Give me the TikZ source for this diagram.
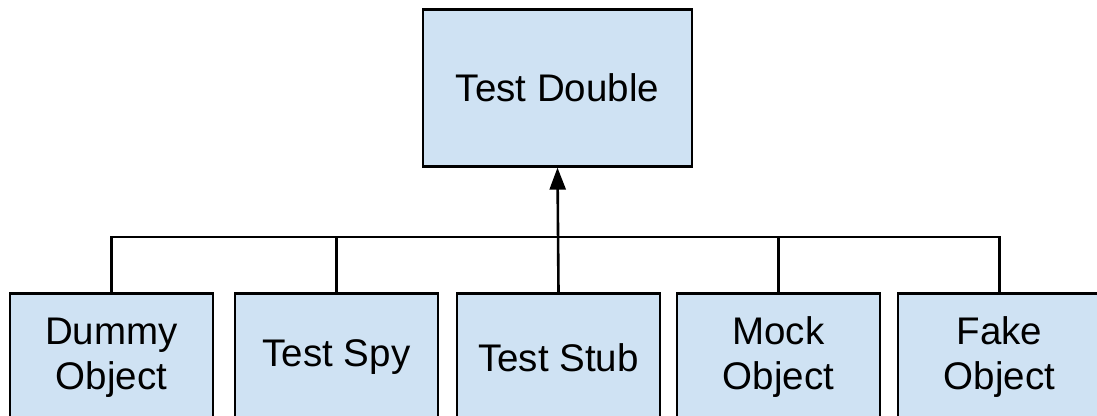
\documentclass[tikz,border=0pt]{standalone}
\usepackage{fontspec}
\setmainfont{Liberation Sans}
\usetikzlibrary{arrows.meta}
\definecolor{boxblue}{HTML}{CFE2F3}
\tikzset{
  kind/.style={draw,fill=boxblue,line width=2.6pt,minimum width=203pt,minimum height=128pt,
    anchor=north,align=center,inner sep=0pt,font=\fontsize{38.5}{45}\selectfont},
  top/.style={kind,minimum width=269pt,minimum height=157pt}
}
\begin{document}
\begin{tikzpicture}[x=1pt,y=-1pt,line width=2.6pt]
\useasboundingbox (0,0) rectangle (1097,415);
\clip (0,0) rectangle (1097,415);
\node[top] (dbl) at (557.5,8) {Test Double};
\node[kind] (dummy) at (111.5,292) {Dummy\\Object};
\node[kind] (spy) at (336.5,292) {Test Spy};
\node[kind] (stub) at (558.5,292) {Test Stub};
\node[kind] (mock) at (778.5,292) {Mock\\Object};
\node[kind] (fake) at (999.5,292) {Fake\\Object};
\coordinate (bus) at (0,237);
\draw (dummy.north) |- (bus -| fake.north) -- (fake.north);
\foreach \n in {spy,mock} \draw (\n.north) -- (\n.north |- bus);
\draw[-{Triangle[length=22pt,width=16pt]}] (stub.north) -- (dbl.south);
\end{tikzpicture}
\end{document}
